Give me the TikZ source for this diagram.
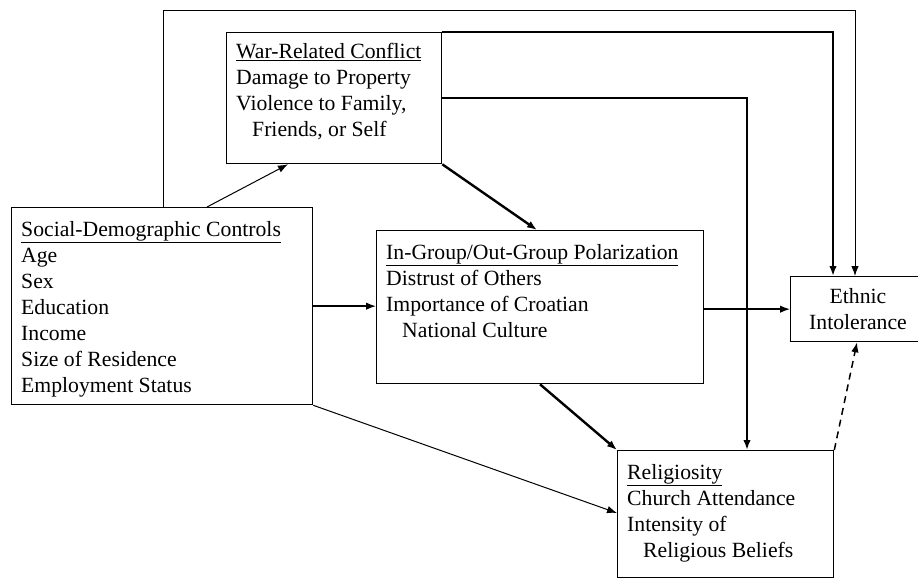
\documentclass[tikz,border=0pt]{standalone}
\usepackage{fontspec}
\setmainfont{Liberation Serif}
\usetikzlibrary{arrows.meta,calc}
\begin{document}
\begin{tikzpicture}[x=1pt,y=-1pt,
  box/.style={draw,line width=1.3pt,inner sep=0pt,anchor=north west},
  txt/.style={inner sep=0pt,anchor=north west,align=left,font=\fontsize{21.7}{26}\selectfont},
  tip/.style={-{Latex[length=10pt,width=7.5pt]}},
  thinln/.style={tip,line width=1pt},
  medln/.style={tip,line width=1.5pt},
  thickln/.style={tip,line width=2.4pt},
  dashln/.style={tip,line width=1.5pt,dash pattern=on 7pt off 5pt}]
\useasboundingbox (0,0) rectangle (918,579);
\clip (0,0) rectangle (918,579);
% boxes
\node[box,minimum width=215pt,minimum height=131pt] (war) at (226,32) {};
\node[box,minimum width=301pt,minimum height=197pt] (social) at (11,207) {};
\node[box,minimum width=327pt,minimum height=153pt] (pol) at (376,230) {};
\node[box,minimum width=216pt,minimum height=127pt] (relig) at (617,450) {};
\node[box,minimum width=150pt,minimum height=65pt] (ethnic) at (790,276) {};
\node[inner sep=0pt,align=center,font=\fontsize{21.7}{26}\selectfont] (ethtxt) at (858,309) {Ethnic\\Intolerance};
% texts
\node[txt] (wartxt) at (236,43) {\underline{War-Related Conflict}\\Damage to Property\\Violence to Family,\\\hspace*{16pt}Friends, or Self};
\node[txt] (soctxt) at (21,221) {\underline{Social-Demographic Controls}\\Age\\Sex\\Education\\Income\\Size of Residence\\Employment Status};
\node[txt] (poltxt) at (386,244) {\underline{In-Group/Out-Group Polarization}\\Distrust of Others\\Importance of Croatian\\\hspace*{16pt}National Culture};
\node[txt] (reltxt) at (627,464) {\underline{Religiosity}\\Church Attendance\\Intensity of\\\hspace*{16pt}Religious Beliefs};
% helper coordinates
\coordinate (topline) at (0,10);
\coordinate (s1) at ([xshift=152pt]social.north west);
\coordinate (e1) at ([xshift=65pt]ethnic.north west);
\coordinate (e2) at ([xshift=43pt]ethnic.north west);
\coordinate (w3) at ([yshift=-66pt]war.north east);
\coordinate (r3) at ([xshift=130pt]relig.north west);
% connectors
\draw[thinln] (s1) -- (s1 |- topline) -- (e1 |- topline) -- (e1);
\draw[thickln] (war.north east) -- (e2 |- war.north east) -- (e2);
\draw[thickln] (w3) -- (r3 |- w3) -- (r3);
\draw[thinln] ([xshift=196pt]social.north west) -- ([xshift=62pt]war.south west);
\draw[thickln] (war.south east) -- ([xshift=161pt]pol.north west);
\draw[medln] (social.east) -- (social.east -| pol.west);
\draw[medln] (ethnic.west -| pol.east) -- (ethnic.west);
\draw[thickln] ([xshift=164pt]pol.south west) -- (relig.north west);
\draw[thinln] (social.south east) -- ([yshift=-63pt]relig.north west);
\draw[dashln] (relig.north east) -- ([xshift=67pt]ethnic.south west);
\end{tikzpicture}
\end{document}
